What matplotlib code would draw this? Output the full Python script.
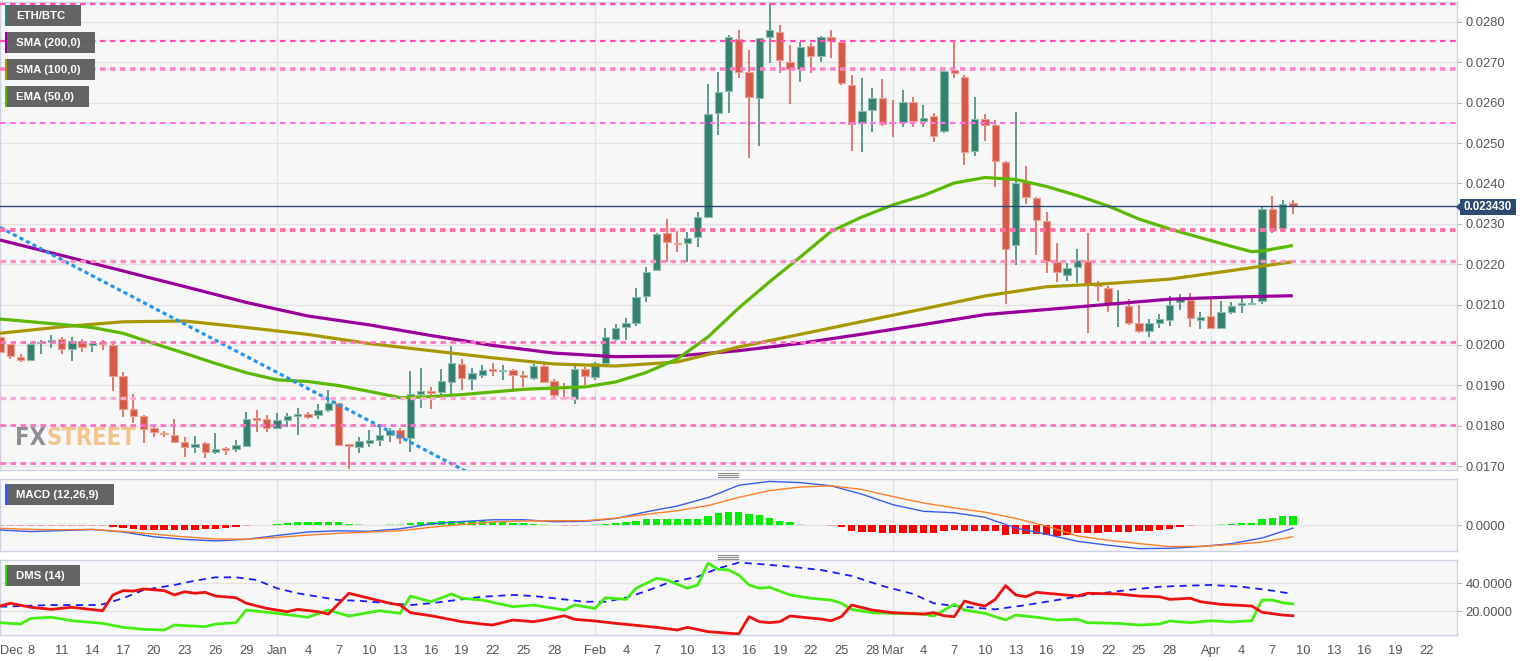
import matplotlib
matplotlib.use('Agg')
import matplotlib.pyplot as plt
import numpy as np
import pandas as pd
from matplotlib.patches import Rectangle, Polygon
from matplotlib.lines import Line2D

plt.rcParams['font.family'] = ['Liberation Sans', 'DejaVu Sans']

# ---------------- data ----------------
start = pd.Timestamp('2019-12-05')
candle_dates = pd.date_range('2019-12-05', '2020-04-09', freq='D')

opens = [0.020188, 0.020014, 0.019707, 0.019626, 0.020039, 0.020079, 0.020138, 0.019891, 0.020104, 0.019990,
         0.020064, 0.019997, 0.019222, 0.018404, 0.018239, 0.017934, 0.017825, 0.017775, 0.017602, 0.017471,
         0.017577, 0.017354, 0.017429, 0.017413, 0.017503, 0.018172, 0.018157, 0.017941, 0.018139, 0.018239,
         0.018280, 0.018263, 0.018387, 0.018553, 0.017520, 0.017478, 0.017577, 0.017644, 0.017760, 0.017892,
         0.017694, 0.018791, 0.018865, 0.018840, 0.019088, 0.019519, 0.019155, 0.019254, 0.019378, 0.019345,
         0.019378, 0.019237, 0.019172, 0.019484, 0.019113, 0.018717, 0.018660, 0.019395, 0.019212, 0.019559,
         0.020138, 0.020436, 0.020550, 0.021218, 0.021855, 0.022764, 0.022524, 0.022516, 0.022665, 0.023175,
         0.025736, 0.026296, 0.027569, 0.026767, 0.026108, 0.027634, 0.027758, 0.027014, 0.026826, 0.027403,
         0.027156, 0.027634, 0.027510, 0.026437, 0.025504, 0.025818, 0.026123, 0.025513, 0.025529, 0.026008,
         0.025546, 0.025670, 0.025305, 0.026809, 0.026643, 0.024802, 0.025588, 0.025439, 0.024530, 0.022482,
         0.024035, 0.023638, 0.023076, 0.022046, 0.021724, 0.021922, 0.022085, 0.021501, 0.021416, 0.021030,
         0.020971, 0.020535, 0.020344, 0.020550, 0.020616, 0.021070, 0.021112, 0.020616, 0.020716, 0.020411,
         0.020807, 0.020988, 0.021005, 0.021094, 0.023358, 0.022888, 0.023507]
highs = [0.020220, 0.020030, 0.019767, 0.020039, 0.020121, 0.020245, 0.020188, 0.020188, 0.020138, 0.020104,
         0.020121, 0.020064, 0.019321, 0.018776, 0.018263, 0.017973, 0.017867, 0.018164, 0.017726, 0.017743,
         0.017602, 0.017810, 0.017478, 0.017644, 0.018330, 0.018387, 0.018263, 0.018320, 0.018305, 0.018429,
         0.018330, 0.018528, 0.018883, 0.018568, 0.017530, 0.017726, 0.017892, 0.018040, 0.017934, 0.017949,
         0.019353, 0.019420, 0.018949, 0.019395, 0.019980, 0.019643, 0.019420, 0.019502, 0.019544, 0.019502,
         0.019395, 0.019353, 0.019527, 0.019519, 0.019147, 0.019048, 0.019477, 0.019460, 0.019584, 0.020411,
         0.020517, 0.020659, 0.021402, 0.021937, 0.022779, 0.023111, 0.022821, 0.022804, 0.023299, 0.026455,
         0.026752, 0.027676, 0.027800, 0.027304, 0.027609, 0.028476, 0.027924, 0.027428, 0.027510, 0.027485,
         0.027651, 0.027800, 0.027520, 0.026685, 0.026603, 0.026356, 0.026578, 0.026066, 0.026314, 0.026132,
         0.025942, 0.025751, 0.026809, 0.027514, 0.026685, 0.026148, 0.025712, 0.025570, 0.024555, 0.025776,
         0.024431, 0.023671, 0.023299, 0.022531, 0.022021, 0.022368, 0.022779, 0.021582, 0.021459, 0.021360,
         0.021129, 0.020988, 0.020634, 0.020758, 0.021211, 0.021253, 0.021293, 0.020822, 0.021129, 0.021094,
         0.021070, 0.021211, 0.021154, 0.023423, 0.023688, 0.023589, 0.023589]
lows = [0.019790, 0.019643, 0.019583, 0.019610, 0.019767, 0.019915, 0.019767, 0.019601, 0.019816, 0.019816,
        0.019873, 0.018858, 0.018206, 0.018058, 0.017577, 0.017726, 0.017726, 0.017577, 0.017215, 0.017329,
        0.017190, 0.017297, 0.017265, 0.017354, 0.017478, 0.017850, 0.017850, 0.017909, 0.017973, 0.017768,
        0.018157, 0.018157, 0.018330, 0.017503, 0.016918, 0.017315, 0.017463, 0.017503, 0.017602, 0.017545,
        0.017354, 0.018429, 0.018404, 0.018717, 0.018783, 0.018883, 0.018883, 0.019172, 0.019229, 0.019130,
        0.018840, 0.018964, 0.019130, 0.019048, 0.018717, 0.018635, 0.018528, 0.019006, 0.019130, 0.019477,
        0.020104, 0.020121, 0.020468, 0.021070, 0.021838, 0.022061, 0.022293, 0.022061, 0.022417, 0.023175,
        0.025199, 0.025751, 0.026603, 0.024622, 0.024926, 0.026990, 0.026727, 0.025959, 0.026519, 0.026742,
        0.027014, 0.027098, 0.026437, 0.024810, 0.024785, 0.025281, 0.025422, 0.025142, 0.025405, 0.025405,
        0.025389, 0.025033, 0.025240, 0.026603, 0.024456, 0.024686, 0.025058, 0.023903, 0.021013, 0.021979,
        0.023482, 0.022226, 0.021788, 0.021550, 0.021582, 0.021525, 0.020287, 0.021094, 0.020807, 0.020450,
        0.020493, 0.020287, 0.020188, 0.020411, 0.020475, 0.020864, 0.020450, 0.020386, 0.020411, 0.020411,
        0.020765, 0.020782, 0.020988, 0.021013, 0.022764, 0.022846, 0.023235]
closes = [0.019816, 0.019725, 0.019626, 0.020014, 0.020071, 0.020121, 0.019891, 0.020104, 0.019955, 0.020054,
          0.020022, 0.019229, 0.018412, 0.018239, 0.017924, 0.017835, 0.017785, 0.017602, 0.017471, 0.017545,
          0.017354, 0.017413, 0.017396, 0.017513, 0.018164, 0.018139, 0.017949, 0.018132, 0.018239, 0.018288,
          0.018222, 0.018387, 0.018560, 0.017520, 0.017495, 0.017612, 0.017644, 0.017768, 0.017892, 0.017694,
          0.018776, 0.018865, 0.018816, 0.019105, 0.019544, 0.019187, 0.019311, 0.019378, 0.019353, 0.019370,
          0.019254, 0.019212, 0.019484, 0.019073, 0.018751, 0.018677, 0.019395, 0.019237, 0.019544, 0.020188,
          0.020411, 0.020550, 0.021193, 0.021813, 0.022747, 0.022556, 0.022491, 0.022655, 0.023160, 0.025712,
          0.026256, 0.027619, 0.026767, 0.026148, 0.027594, 0.027800, 0.027057, 0.026826, 0.027371, 0.027156,
          0.027634, 0.027535, 0.026494, 0.025471, 0.025801, 0.026108, 0.025464, 0.025488, 0.026024, 0.025546,
          0.025620, 0.025174, 0.026791, 0.026727, 0.024785, 0.025588, 0.025439, 0.024547, 0.022375, 0.024003,
          0.023663, 0.023101, 0.022085, 0.021805, 0.021904, 0.022110, 0.021501, 0.021466, 0.021013, 0.021070,
          0.020535, 0.020351, 0.020535, 0.020634, 0.020980, 0.021154, 0.020673, 0.020698, 0.020426, 0.020807,
          0.020963, 0.021013, 0.021045, 0.023366, 0.022846, 0.023490, 0.023430]

last_price = 0.023430

# moving averages (day offsets from Dec 5)
sma_days = [0, 6, 12, 18, 24, 30, 36, 42, 48, 54, 60, 66, 72, 78, 84, 90, 96, 102, 108, 114, 120, 126]
sma200 = [0.022598, 0.022217, 0.021830, 0.021444, 0.021052, 0.020716, 0.020495, 0.020232, 0.019987, 0.019797,
          0.019707, 0.019725, 0.019856, 0.020039, 0.020265, 0.020505, 0.020750, 0.020876, 0.021005, 0.021132,
          0.021184, 0.021218]
sma100 = [0.020287, 0.020448, 0.020572, 0.020592, 0.020431, 0.020260, 0.020032, 0.019856, 0.019680, 0.019527,
          0.019477, 0.019576, 0.019948, 0.020262, 0.020577, 0.020891, 0.021211, 0.021441, 0.021518, 0.021629,
          0.021840, 0.022061]
ema_days = [0, 3, 6, 9, 12, 15, 18, 21, 24, 27, 30, 33, 36, 39, 42, 45, 48, 51, 54, 57, 60, 63, 66, 69, 72, 75,
            78, 81, 84, 87, 90, 93, 96, 99, 102, 105, 108, 111, 114, 117, 120, 122, 123, 126]
ema50 = [0.020641, 0.020572, 0.020505, 0.020431, 0.020287, 0.020034, 0.019792, 0.019541, 0.019311, 0.019135,
         0.019093, 0.018992, 0.018848, 0.018692, 0.018717, 0.018769, 0.018833, 0.018900, 0.018930, 0.018959,
         0.019081, 0.019318, 0.019650, 0.020195, 0.020914, 0.021563, 0.022177, 0.022811, 0.023168, 0.023465,
         0.023700, 0.024010, 0.024146, 0.024097, 0.023923, 0.023700, 0.023440, 0.023118, 0.022870, 0.022655,
         0.022442, 0.022308, 0.022326, 0.022462]

# horizontal levels and trend line
levels = [0.02844, 0.02753, 0.02683, 0.02550, 0.02285, 0.02209, 0.02008, 0.01868, 0.01802, 0.01707]
trend_days = [0, 46]
trend_prices = [0.02291, 0.01679]

# MACD (12,26,9)
macd_days = [0, 3, 6, 9, 12, 15, 18, 21, 24, 27, 30, 33, 36, 39, 42, 45, 48, 51, 54, 57, 60, 63, 66, 69, 72,
             75, 78, 81, 84, 87, 90, 93, 96, 99, 102, 105, 108, 111, 114, 117, 120, 123, 126]
macd_line = [-4.7e-5, -6.3e-5, -5.3e-5, -4.2e-5, -6.7e-5, -11.5e-5, -14.1e-5, -15.6e-5, -14.0e-5, -10.2e-5,
             -6.7e-5, -5.5e-5, -6.0e-5, -3.5e-5, 1.3e-5, 3.7e-5, 5.5e-5, 5.6e-5, 3.6e-5, 3.9e-5,
             6.8e-5, 13.5e-5, 19.3e-5, 27.7e-5, 40.0e-5, 43.9e-5, 42.7e-5, 39.5e-5, 31.1e-5, 20.7e-5,
             14.0e-5, 12.5e-5, 8.0e-5, -2.8e-5, -9.0e-5, -16.0e-5, -19.9e-5, -23.3e-5, -23.0e-5, -21.2e-5,
             -18.4e-5, -12.7e-5, -2.9e-5]
macd_signal = [-3.0e-5, -4.1e-5, -4.5e-5, -4.1e-5, -6.2e-5, -8.8e-5, -11.6e-5, -13.7e-5, -13.9e-5, -12.1e-5,
               -9.8e-5, -8.0e-5, -6.7e-5, -5.4e-5, -2.0e-5, 0.9e-5, 3.3e-5, 4.3e-5, 4.6e-5, 4.6e-5,
               7.1e-5, 11.0e-5, 14.6e-5, 19.7e-5, 27.9e-5, 34.7e-5, 38.3e-5, 39.5e-5, 35.8e-5, 28.8e-5,
               22.3e-5, 17.4e-5, 13.1e-5, 6.9e-5, -0.8e-5, -10.6e-5, -15.0e-5, -18.3e-5, -21.3e-5, -21.0e-5,
               -19.3e-5, -16.8e-5, -11.5e-5]
macd_hist = [-1.0e-5, -1.0e-5, -1.0e-5, -0.8e-5, -0.6e-5, -0.5e-5, -0.4e-5, -0.4e-5, -0.3e-5, -0.3e-5,
             -0.3e-5, -1.5e-5, -3.0e-5, -3.7e-5, -4.3e-5, -4.7e-5, -4.7e-5, -4.7e-5, -4.5e-5, -4.3e-5,
             -4.0e-5, -3.5e-5, -3.0e-5, -2.0e-5, -0.7e-5, 0.3e-5, 0.6e-5, 1.5e-5, 2.3e-5, 3.0e-5,
             3.3e-5, 3.5e-5, 3.7e-5, 3.0e-5, 1.5e-5, 1.0e-5, 0.8e-5, 0.8e-5, 1.0e-5, 1.0e-5,
             2.3e-5, 3.0e-5, 3.5e-5, 4.0e-5, 4.7e-5, 4.5e-5, 4.3e-5, 4.0e-5, 3.7e-5, 3.3e-5,
             2.7e-5, 2.3e-5, 1.7e-5, 1.2e-5, 0.6e-5, -0.8e-5, -0.3e-5, 0.3e-5, 1.0e-5, 1.5e-5,
             2.5e-5, 3.5e-5, 4.5e-5, 6.0e-5, 6.7e-5, 6.7e-5, 6.3e-5, 6.0e-5, 6.0e-5, 9.3e-5,
             12.7e-5, 13.7e-5, 13.0e-5, 11.0e-5, 10.3e-5, 7.0e-5, 4.7e-5, 3.0e-5, 1.0e-5, 0.4e-5,
             0.2e-5, -0.3e-5, -2.0e-5, -5.3e-5, -6.3e-5, -6.7e-5, -7.3e-5, -7.7e-5, -7.7e-5, -7.7e-5,
             -7.3e-5, -7.7e-5, -5.7e-5, -4.3e-5, -5.7e-5, -5.7e-5, -5.7e-5, -6.0e-5, -10.0e-5, -8.7e-5,
             -8.3e-5, -9.0e-5, -9.7e-5, -10.3e-5, -9.7e-5, -8.0e-5, -7.7e-5, -7.3e-5, -7.0e-5, -6.7e-5,
             -6.3e-5, -5.7e-5, -5.3e-5, -4.3e-5, -3.3e-5, -1.3e-5, -0.5e-5, 0.3e-5, 0.7e-5, 1.0e-5,
             1.5e-5, 2.3e-5, 2.7e-5, 6.7e-5, 7.3e-5, 9.0e-5, 9.3e-5]

# DMS (14)
adx_days = [0, 5, 9, 10, 12, 14, 17, 19, 21, 23, 25, 27, 29, 33, 35, 38, 40, 42, 45, 47, 50, 52, 54, 57, 59,
            61, 63, 65, 68, 70, 72, 74, 77, 80, 83, 86, 89, 91, 93, 97, 100, 103, 106, 110, 113, 115, 118,
            121, 124, 126]
adx_vals = [23.1, 24.3, 24.3, 24.8, 29.2, 35.2, 38.8, 41.9, 44.3, 44.3, 42.4, 36.4, 32.8, 27.9, 27.4, 25.6,
            24.3, 25.6, 28.4, 30.3, 31.6, 30.8, 29.2, 26.7, 26.7, 29.6, 34.4, 40.0, 44.8, 50.8, 54.9, 53.9,
            52.0, 49.6, 45.3, 38.1, 32.3, 25.6, 23.6, 21.2, 24.3, 27.9, 31.6, 35.2, 37.5, 38.1, 38.8, 37.5,
            34.7, 32.3]
pdi_days = [0, 2, 3, 5, 7, 10, 12, 14, 16, 17, 20, 21, 23, 24, 27, 30, 32, 34, 37, 39, 40, 42, 44, 45, 47,
            50, 52, 55, 56, 58, 59, 61, 62, 64, 65, 67, 68, 69, 70, 71, 72, 73, 74, 75, 77, 79, 81, 82, 83,
            85, 87, 90, 91, 93, 94, 96, 98, 99, 101, 103, 105, 106, 109, 111, 113, 114, 116, 118, 120, 122,
            123, 124, 125, 126]
pdi_vals = [11.6, 10.6, 14.7, 15.5, 13.0, 11.1, 8.2, 6.8, 6.3, 9.9, 8.7, 10.6, 11.6, 20.7, 18.3, 15.5, 20.7,
            16.4, 20.2, 18.3, 30.8, 26.7, 32.3, 29.2, 27.9, 23.1, 24.3, 20.7, 24.3, 21.9, 29.6, 28.4, 36.4,
            43.6, 42.4, 36.4, 38.8, 54.4, 50.1, 49.6, 46.0, 38.8, 36.4, 37.1, 31.6, 29.2, 27.9, 25.6, 21.2,
            18.8, 18.3, 17.8, 16.4, 24.8, 20.7, 18.3, 13.5, 17.1, 15.5, 13.5, 14.0, 11.6, 11.1, 9.9, 10.6,
            12.8, 11.6, 13.0, 12.1, 13.0, 27.9, 27.9, 26.0, 25.1]
mdi_days = [0, 1, 3, 5, 7, 10, 11, 12, 13, 14, 16, 17, 18, 19, 20, 21, 23, 24, 26, 28, 29, 31, 32, 34, 36,
            38, 39, 40, 42, 43, 45, 47, 48, 50, 52, 53, 55, 56, 58, 60, 61, 64, 66, 67, 69, 72, 73, 74, 75,
            76, 77, 80, 81, 82, 83, 85, 87, 90, 91, 92, 93, 94, 95, 96, 97, 98, 99, 100, 101, 105, 106, 109,
            111, 113, 114, 116, 117, 119, 122, 123, 125, 126]
mdi_vals = [23.6, 25.6, 22.7, 21.2, 22.7, 20.2, 31.6, 34.7, 34.4, 35.9, 34.7, 31.6, 33.9, 32.8, 33.5, 30.8,
            29.6, 25.6, 21.9, 19.5, 21.2, 19.5, 17.8, 32.8, 29.2, 25.6, 24.3, 18.8, 16.6, 15.2, 12.3, 10.6,
            9.9, 13.5, 12.3, 13.5, 16.6, 14.0, 12.8, 11.1, 10.4, 8.2, 6.3, 8.2, 5.1, 3.4, 15.9, 12.3, 11.6,
            12.3, 16.4, 14.2, 13.0, 15.9, 24.3, 20.7, 18.8, 17.8, 18.8, 16.6, 15.9, 27.2, 25.1, 23.6, 28.4,
            38.3, 31.6, 30.3, 33.5, 30.8, 32.8, 32.3, 30.8, 30.3, 28.4, 29.2, 26.7, 24.8, 23.6, 19.1, 17.1,
            16.6]

# x axis ticks
tick_dates = ['2019-12-05', '2019-12-08', '2019-12-11', '2019-12-14', '2019-12-17', '2019-12-20', '2019-12-23',
              '2019-12-26', '2019-12-29', '2020-01-01', '2020-01-04', '2020-01-07', '2020-01-10', '2020-01-13',
              '2020-01-16', '2020-01-19', '2020-01-22', '2020-01-25', '2020-01-28', '2020-02-01', '2020-02-04',
              '2020-02-07', '2020-02-10', '2020-02-13', '2020-02-16', '2020-02-19', '2020-02-22', '2020-02-25',
              '2020-02-28', '2020-03-01', '2020-03-04', '2020-03-07', '2020-03-10', '2020-03-13', '2020-03-16',
              '2020-03-19', '2020-03-22', '2020-03-25', '2020-03-28', '2020-04-01', '2020-04-04', '2020-04-07',
              '2020-04-10', '2020-04-13', '2020-04-16', '2020-04-19', '2020-04-22']
tick_labels = ['Dec', '8', '11', '14', '17', '20', '23', '26', '29', 'Jan', '4', '7', '10', '13', '16', '19',
               '22', '25', '28', 'Feb', '4', '7', '10', '13', '16', '19', '22', '25', '28', 'Mar', '4', '7',
               '10', '13', '16', '19', '22', '25', '28', 'Apr', '4', '7', '10', '13', '16', '19', '22']
month_starts = ['2020-01-01', '2020-02-01', '2020-03-01', '2020-04-01']
price_ticks = [0.017, 0.018, 0.019, 0.020, 0.021, 0.022, 0.023, 0.024, 0.025, 0.026, 0.027, 0.028]

# ---------------- figure ----------------
W, H = 1534, 661
fig = plt.figure(figsize=(W / 100, H / 100), dpi=100)
fig.patch.set_facecolor('white')


def rect(x0, y0, x1, y1):
    return [x0 / W, 1 - y1 / H, (x1 - x0) / W, (y1 - y0) / H]


def dday(s):
    return (pd.Timestamp(s) - start).days


ax = fig.add_axes(rect(0, 2, 1457, 470))
axm = fig.add_axes(rect(0, 479, 1457, 551), sharex=ax)
axd = fig.add_axes(rect(0, 560, 1457, 635), sharex=ax)

spine_c = '#cdd2e2'
grid_c = '#e3e3e3'
lab_c = '#555555'
for a in (ax, axm, axd):
    a.set_facecolor('#f7f7f7')
    for s in a.spines.values():
        s.set_color(spine_c)
        s.set_linewidth(1.0)
    a.yaxis.tick_right()
    a.tick_params(axis='y', length=3.5, width=0.8, color='#b8b8b8', labelcolor=lab_c,
                  labelsize=9.3, pad=2.5)
    a.tick_params(axis='x', length=0)
    for m in month_starts:
        a.axvline(dday(m), color=grid_c, lw=1.0, zorder=0.5)

x = np.array([(d - start).days for d in candle_dates])
o = np.array(opens); h = np.array(highs); l = np.array(lows); c = np.array(closes)
up = c >= o
green_body, green_edge = '#34816f', '#8dbdb0'
red_body, red_edge = '#d65a48', '#eba194'

# horizontal grid (main)
for p in price_ticks:
    ax.axhline(p, color=grid_c, lw=1.0, zorder=0.5)

# candles
ax.vlines(x[up], l[up], h[up], colors=green_body, lw=1.1, zorder=2)
ax.vlines(x[~up], l[~up], h[~up], colors=red_body, lw=1.1, zorder=2)
body_h = np.maximum(np.abs(c - o), 0.00004)
body_b = np.minimum(o, c)
ax.bar(x[up], body_h[up], bottom=body_b[up], width=0.72, color=green_body,
       edgecolor=green_edge, linewidth=0.8, zorder=3)
ax.bar(x[~up], body_h[~up], bottom=body_b[~up], width=0.72, color=red_body,
       edgecolor=red_edge, linewidth=0.8, zorder=3)

# moving averages
ax.plot(sma_days, sma200, color='#990099', lw=2.3, zorder=4, solid_capstyle='butt')
ax.plot(sma_days, sma100, color='#a89800', lw=2.3, zorder=4, solid_capstyle='butt')
ax.plot(ema_days, ema50, color='#5cb800', lw=2.3, zorder=4, solid_capstyle='butt')

# trend line
ax.plot(trend_days, trend_prices, color='#2196f3', lw=2.3, linestyle=(0, (1.3, 1.0)),
        zorder=5, dash_capstyle='butt')

# levels
level_styles = [('#ff4db3', 1.6), ('#ff4db3', 1.6), ('#ff80c4', 2.6), ('#ff70e8', 1.5),
                ('#ff6fa8', 2.8), ('#ff8cbe', 2.4), ('#ff6fbf', 2.0), ('#ffa8d6', 2.4),
                ('#ff70c3', 2.0), ('#ff6fc0', 2.0)]
for lv, (col, lw) in zip(levels, level_styles):
    ax.axhline(lv, color=col, lw=lw, dashes=(4.0 / lw, 3.2 / lw), zorder=6)

# last price line
ax.axhline(last_price, color='#2d4a72', lw=1.0, zorder=7)

ax.set_xlim(0, 142)
ax.set_ylim(0.016901, 0.028493)
ax.set_yticks(price_ticks)
ax.set_yticklabels(['%.4f' % p for p in price_ticks])
ax.tick_params(axis='x', labelbottom=False)

# MACD panel
axm.axhline(0, color=grid_c, lw=0.8, zorder=0.5)
hist = np.array(macd_hist)
hx = x[:len(hist)]
cols = []
for v in hist:
    if v >= 0:
        cols.append('#00ee00' if v > 1.2e-5 else '#9ef09e')
    else:
        cols.append('#ff0000' if v < -1.2e-5 else '#f6a0a0')
axm.bar(hx, hist, width=0.72, color=cols, zorder=2)
axm.plot(macd_days, macd_line, color='#3b5bf0', lw=1.0, zorder=3)
axm.plot(macd_days, macd_signal, color='#ff7f27', lw=1.0, zorder=3)
axm.set_ylim(-0.000257, 0.000463)
axm.set_yticks([0])
axm.set_yticklabels(['0.0000'])
axm.tick_params(axis='x', labelbottom=False)

# DMS panel
for v in (20, 40):
    axd.axhline(v, color=grid_c, lw=1.0, zorder=0.5)
axd.plot(adx_days, adx_vals, color='#1a1aff', lw=1.3, dashes=(4.0, 3.0), zorder=2)
axd.plot(pdi_days, pdi_vals, color='#44ee11', lw=2.0, zorder=3)
axd.plot(mdi_days, mdi_vals, color='#ee1111', lw=2.0, zorder=4)
axd.set_ylim(2.7, 56.8)
axd.set_yticks([20, 40])
axd.set_yticklabels(['20.0000', '40.0000'])
axd.set_xticks([dday(t) for t in tick_dates])
axd.set_xticklabels(tick_labels)
axd.tick_params(axis='x', labelsize=9.3, labelcolor=lab_c, pad=7)
axd.get_xticklabels()[0].set_horizontalalignment('left')


# ---------------- overlays in pixel space ----------------
def px_rect(x0, y0, w, h, **kw):
    fig.add_artist(Rectangle((x0 / W, 1 - (y0 + h) / H), w / W, h / H,
                             transform=fig.transFigure, **kw))


def px_text(xp, yp, s, **kw):
    return fig.text(xp / W, 1 - yp / H, s, **kw)


legend_items = [('ETH/BTC', 5, 76, '#2a8a7a'), ('SMA (200,0)', 32, 90, '#990099'),
                ('SMA (100,0)', 59, 90, '#a89800'), ('EMA (50,0)', 86, 84, '#5cb800'),
                ('MACD (12,26,9)', 484, 109, '#3355ff'), ('DMS (14)', 565, 75, '#33dd00')]
for txt, y0, w, sc in legend_items:
    px_rect(5, y0, w, 21, facecolor='#5c5c5c', edgecolor='none', alpha=0.95, zorder=20)
    px_rect(5, y0, 2, 21, facecolor=sc, edgecolor='none', zorder=21)
    px_text(16, y0 + 11, txt, color='white', fontsize=8.2, fontweight='bold',
            va='center', ha='left', zorder=22)

# FXSTREET watermark (FX followed directly by STREET)
wm_font = dict(fontsize=17, fontweight='bold', family=['Liberation Sans Narrow', 'DejaVu Sans'],
               fontstretch='condensed')
fx = ax.text(15 / 1457, 1 - (438 - 2) / 468, 'FX', transform=ax.transAxes, color='#8d8f94',
             va='center', ha='left', zorder=1, **wm_font)
ax.annotate('STREET', xy=(1, 0.5), xycoords=fx, xytext=(0.5, 0), textcoords='offset points',
            color='#f2c48c', va='center', ha='left', zorder=1, annotation_clip=False, **wm_font)

# last price label
px_rect(1460, 199, 56, 16, facecolor='#2d4a72', edgecolor='none', zorder=20)
fig.add_artist(Polygon([(1456 / W, 1 - 207 / H), (1460.5 / W, 1 - 202.5 / H), (1460.5 / W, 1 - 211.5 / H)],
                       closed=True, transform=fig.transFigure, facecolor='#2d4a72',
                       edgecolor='none', zorder=20))
px_text(1488, 207.5, '%.6f' % last_price, color='white', fontsize=8.3, fontweight='bold',
        ha='center', va='center', zorder=21)

# panel drag handles
for yb in (473.2, 554.5):
    for k in range(3):
        yy = 1 - (yb + 2 * k) / H
        fig.add_artist(Line2D([718 / W, 738 / W], [yy, yy], transform=fig.transFigure,
                              color='#8a8a8a', lw=0.8))

fig.savefig('out.png', dpi=100, facecolor='white')
